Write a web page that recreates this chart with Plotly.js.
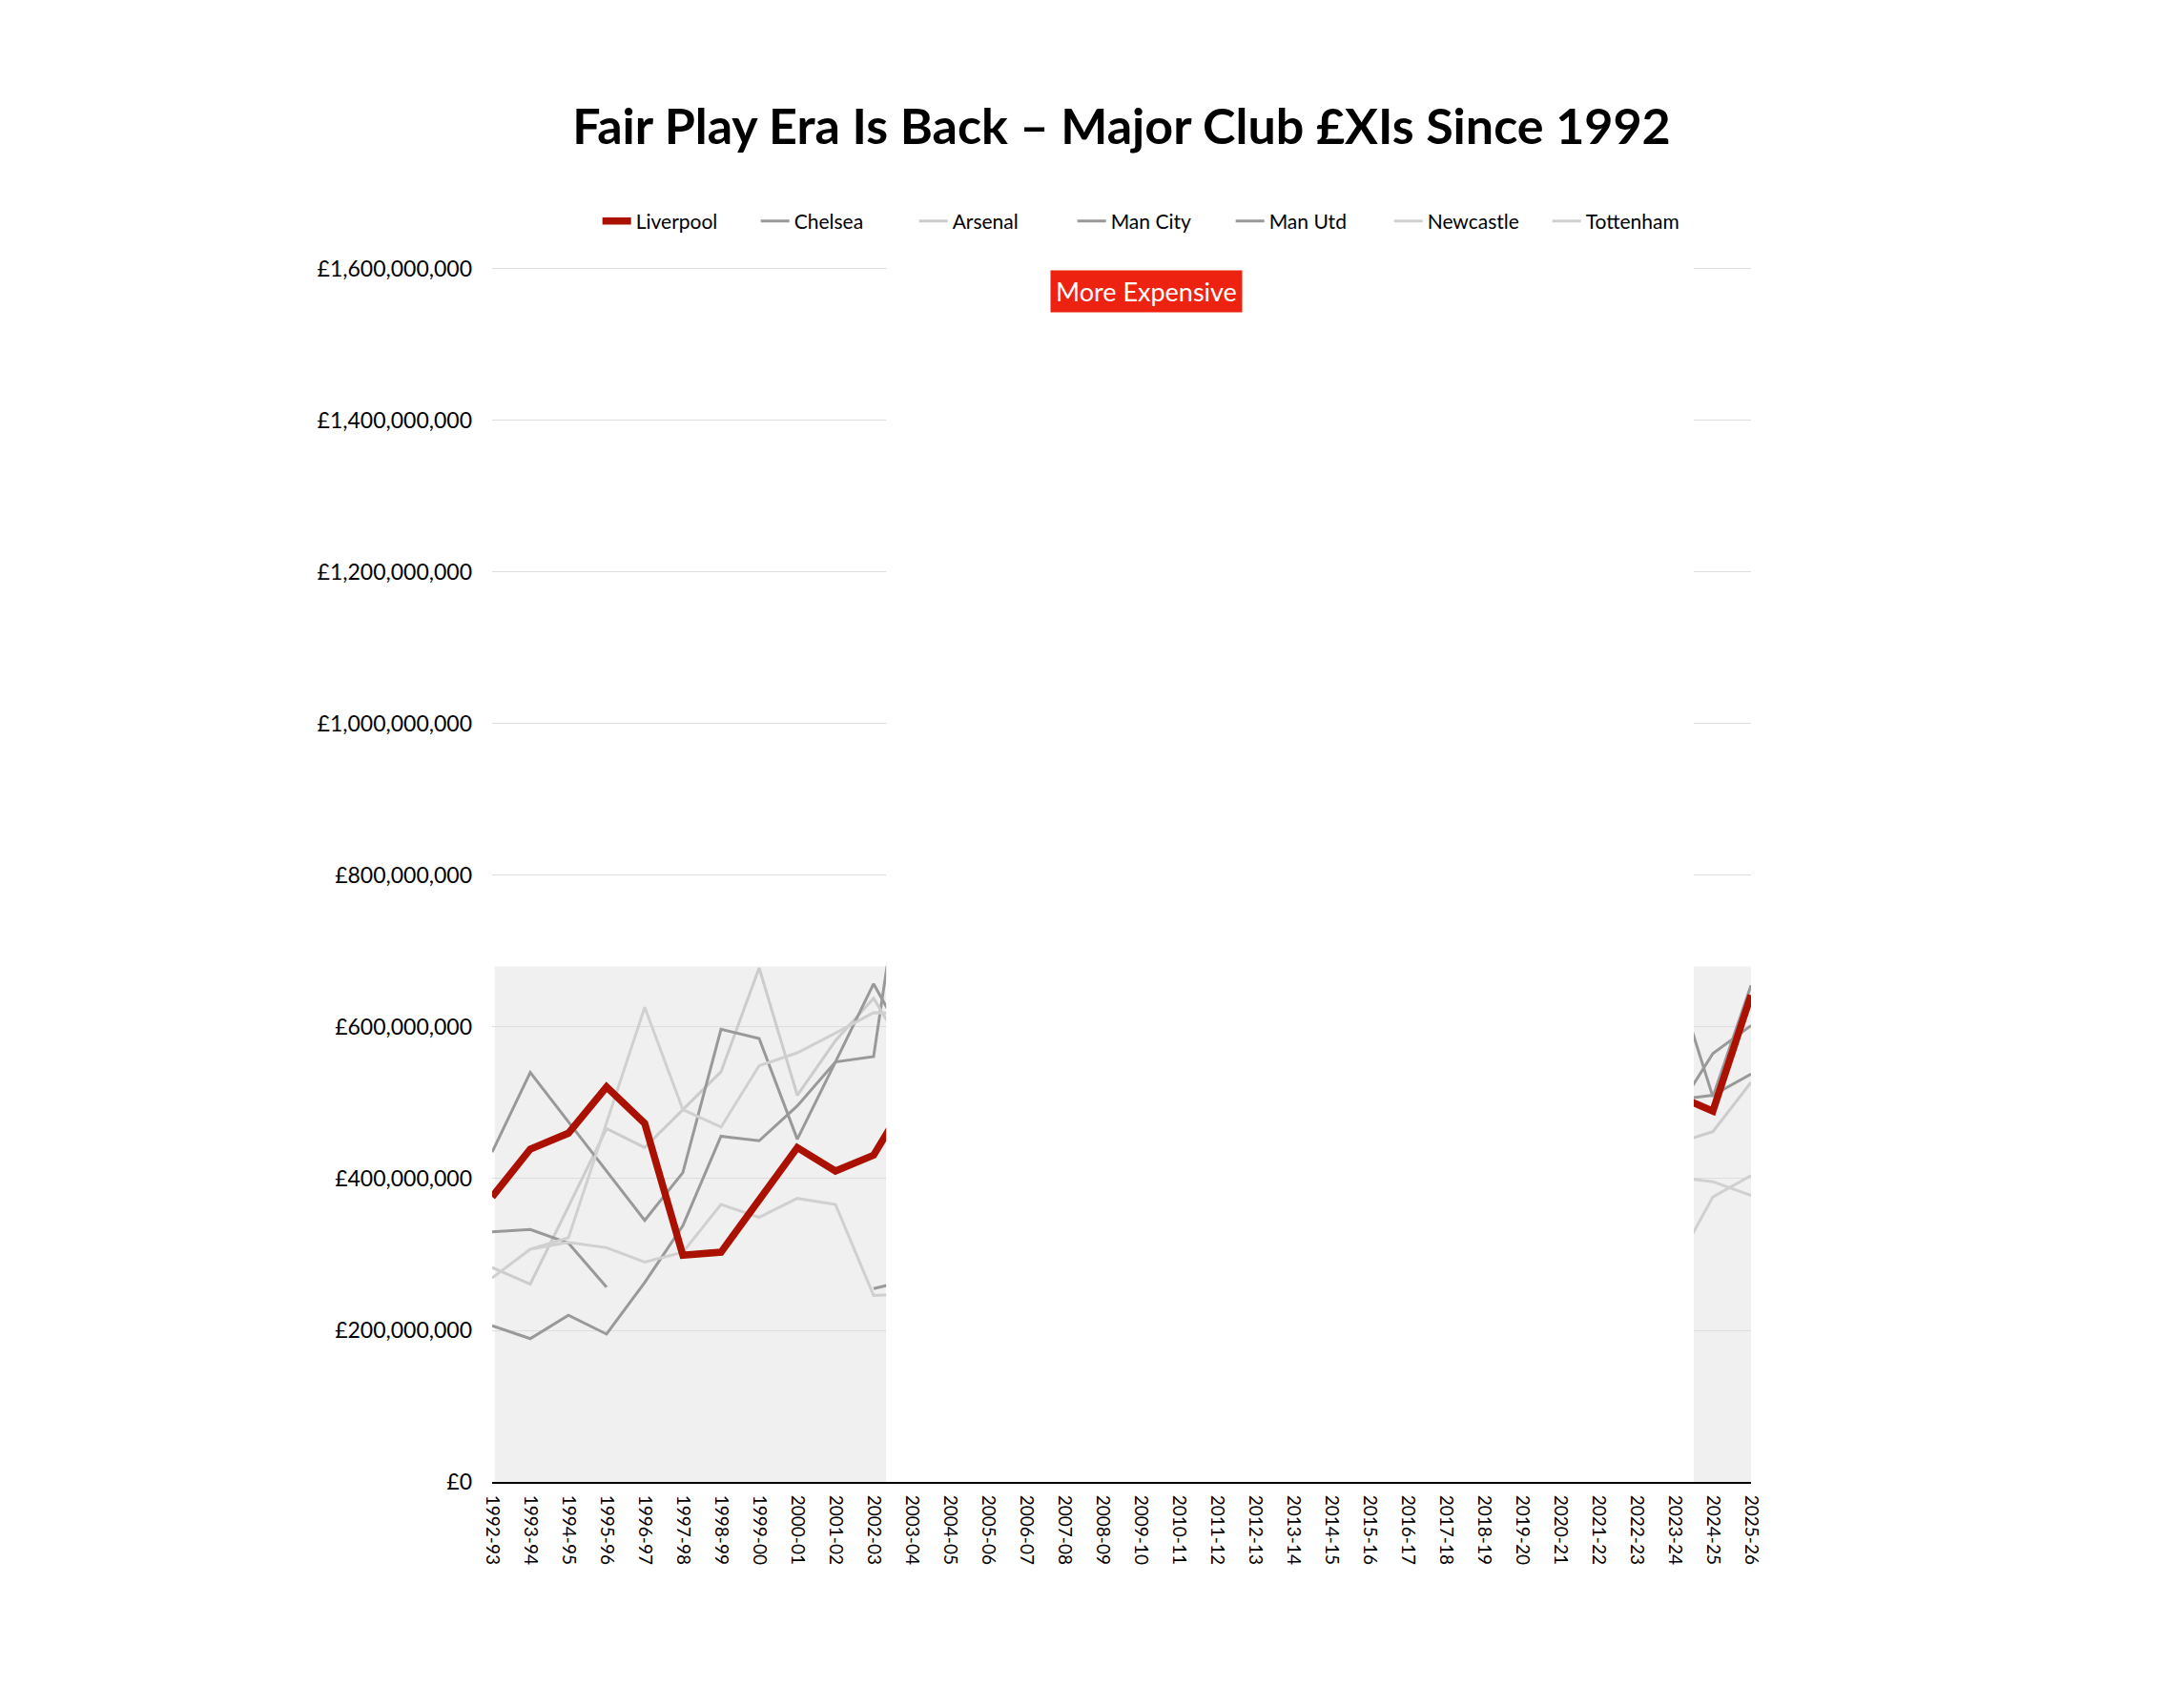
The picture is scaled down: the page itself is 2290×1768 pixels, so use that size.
<!DOCTYPE html>
<html>
<head>
<meta charset="utf-8">
<script src="https://cdn.plot.ly/plotly-3.0.1.min.js"></script>
<style>
  body { margin: 0; background: #ffffff; }
  #xiGraph { width: 2290px; height: 1768px; }
</style>
</head>
<body>
<div id="xiGraph"></div>
<script>
// seasons on the x axis
var seasons = ['1992-93','1993-94','1994-95','1995-96','1996-97','1997-98','1998-99','1999-00',
    '2000-01','2001-02','2002-03','2003-04','2004-05','2005-06','2006-07','2007-08','2008-09',
    '2009-10','2010-11','2011-12','2012-13','2013-14','2014-15','2015-16','2016-17','2017-18',
    '2018-19','2019-20','2020-21','2021-22','2022-23','2023-24','2024-25','2025-26'];

// XI value in £ millions, only the seasons you can see (middle years are hidden)
var N = null;
var liverpool = [376,439,460,521,473,299,303,374,441,410,431,514, N,N,N,N,N,N,N,N,N,N,N,N,N,N,N,N,N,N,N, 511,489,642];
var chelsea   = [206,189,220,195,263,338,456,450,496,554,561,900, N,N,N,N,N,N,N,N,N,N,N,N,N,N,N,N,N,N,N, 485,565,602];
var arsenal   = [283,261,363,466,441,491,541,678,510,582,638,554, N,N,N,N,N,N,N,N,N,N,N,N,N,N,N,N,N,N,N, 446,462,527];
var manCity   = [330,333,315,257, N, N, N, N, N, N,255,267, N,N,N,N,N,N,N,N,N,N,N,N,N,N,N,N,N,N,N, 668,508,655];
var manUtd    = [435,540,475,410,345,408,597,585,452,554,657,567, N,N,N,N,N,N,N,N,N,N,N,N,N,N,N,N,N,N,N, 504,510,538];
var newcastle = [  N,307,322,474,626,491,468,549,566,592,619,617, N,N,N,N,N,N,N,N,N,N,N,N,N,N,N,N,N,N,N, 402,396,378];
var tottenham = [269,307,316,309,290,303,366,349,374,366,246,248, N,N,N,N,N,N,N,N,N,N,N,N,N,N,N,N,N,N,N, 284,376,404];

var clubs = [
    {name: 'Chelsea',   vals: chelsea,   color: '#999999', rank: 2},
    {name: 'Arsenal',   vals: arsenal,   color: '#cccccc', rank: 3},
    {name: 'Man City',  vals: manCity,   color: '#999999', rank: 4},
    {name: 'Man Utd',   vals: manUtd,    color: '#999999', rank: 5},
    {name: 'Newcastle', vals: newcastle, color: '#d0d0d0', rank: 6},
    {name: 'Tottenham', vals: tottenham, color: '#d0d0d0', rank: 7}
];

function toPounds(arr) {
    var out = [];
    for (var i = 0; i < arr.length; i++) {
        out.push(arr[i] == null ? null : arr[i] * 1e6);
    }
    return out;
}

var data = [];
for (var c = 0; c < clubs.length; c++) {
    data.push({
        x: seasons,
        y: toPounds(clubs[c].vals),
        name: clubs[c].name,
        type: 'scatter',
        mode: 'lines',
        legendrank: clubs[c].rank,
        connectgaps: false,
        line: {color: clubs[c].color, width: 3}
    });
}
// liverpool last so it sits on top
data.push({
    x: seasons,
    y: toPounds(liverpool),
    name: 'Liverpool',
    type: 'scatter',
    mode: 'lines',
    legendrank: 1,
    connectgaps: false,
    line: {color: '#aa1100', width: 7.5}
});

var font = 'Lato, "Noto Sans", sans-serif';

var layout = {
    width: 2290,
    height: 1768,
    paper_bgcolor: '#ffffff',
    plot_bgcolor: '#ffffff',
    margin: {l: 516, r: 454, t: 278, b: 214},
    font: {family: font, color: '#000000'},
    title: {
        text: '<b>Fair Play Era Is Back – Major Club £XIs Since 1992</b>',
        font: {family: font, size: 52, color: '#000000'},
        x: 0.5,
        xref: 'paper',
        y: 0.925,
        yanchor: 'middle'
    },
    showlegend: true,
    legend: {
        orientation: 'h',
        x: 0.524,
        xanchor: 'center',
        y: 1.036,
        yanchor: 'middle',
        font: {family: font, size: 21, color: '#000000'},
        itemwidth: 30,
        entrywidth: 121,
        entrywidthmode: 'pixels'
    },
    xaxis: {
        type: 'category',
        range: [0, 33],
        showgrid: false,
        zeroline: false,
        showline: true,
        linecolor: '#000000',
        linewidth: 2,
        ticks: '',
        tickangle: 90,
        ticklabelstandoff: 8,
        tickfont: {family: font, size: 19, color: '#000000'}
    },
    yaxis: {
        range: [0, 1605e6],
        dtick: 200e6,
        tickprefix: '£',
        tickformat: ',d',
        showgrid: true,
        gridcolor: '#dddddd',
        gridwidth: 1,
        zeroline: false,
        showline: false,
        ticks: '',
        ticklabelstandoff: 20,
        tickfont: {family: font, size: 23, color: '#000000'}
    },
    shapes: [
        // shaded windows
        {type: 'rect', layer: 'below', xref: 'x', yref: 'y', x0: 0.07, x1: 10.33, y0: 0, y1: 680e6,
         fillcolor: '#f0f0f0', line: {width: 0}},
        {type: 'rect', layer: 'below', xref: 'x', yref: 'y', x0: 31.5, x1: 33, y0: 0, y1: 680e6,
         fillcolor: '#f0f0f0', line: {width: 0}},
        // white cover over the hidden years
        {type: 'rect', layer: 'above', xref: 'x', yref: 'y', x0: 10.33, x1: 31.5, y0: 3e6, y1: 1605e6,
         fillcolor: '#ffffff', line: {width: 0}},
        // trim the 2003-04 jump above the shaded window
        {type: 'rect', layer: 'above', xref: 'x', yref: 'y', x0: 10, x1: 10.34, y0: 681e6, y1: 760e6,
         fillcolor: '#ffffff', line: {width: 0}}
    ],
    annotations: [
        {
            x: 17.15,
            y: 1570e6,
            xref: 'x',
            yref: 'y',
            text: 'More Expensive',
            showarrow: false,
            bgcolor: '#ee2211',
            borderpad: 5,
            font: {family: font, size: 27, color: '#ffffff'},
            xanchor: 'center',
            yanchor: 'middle'
        }
    ]
};

Plotly.newPlot('xiGraph', data, layout, {staticPlot: true});
</script>
</body>
</html>
